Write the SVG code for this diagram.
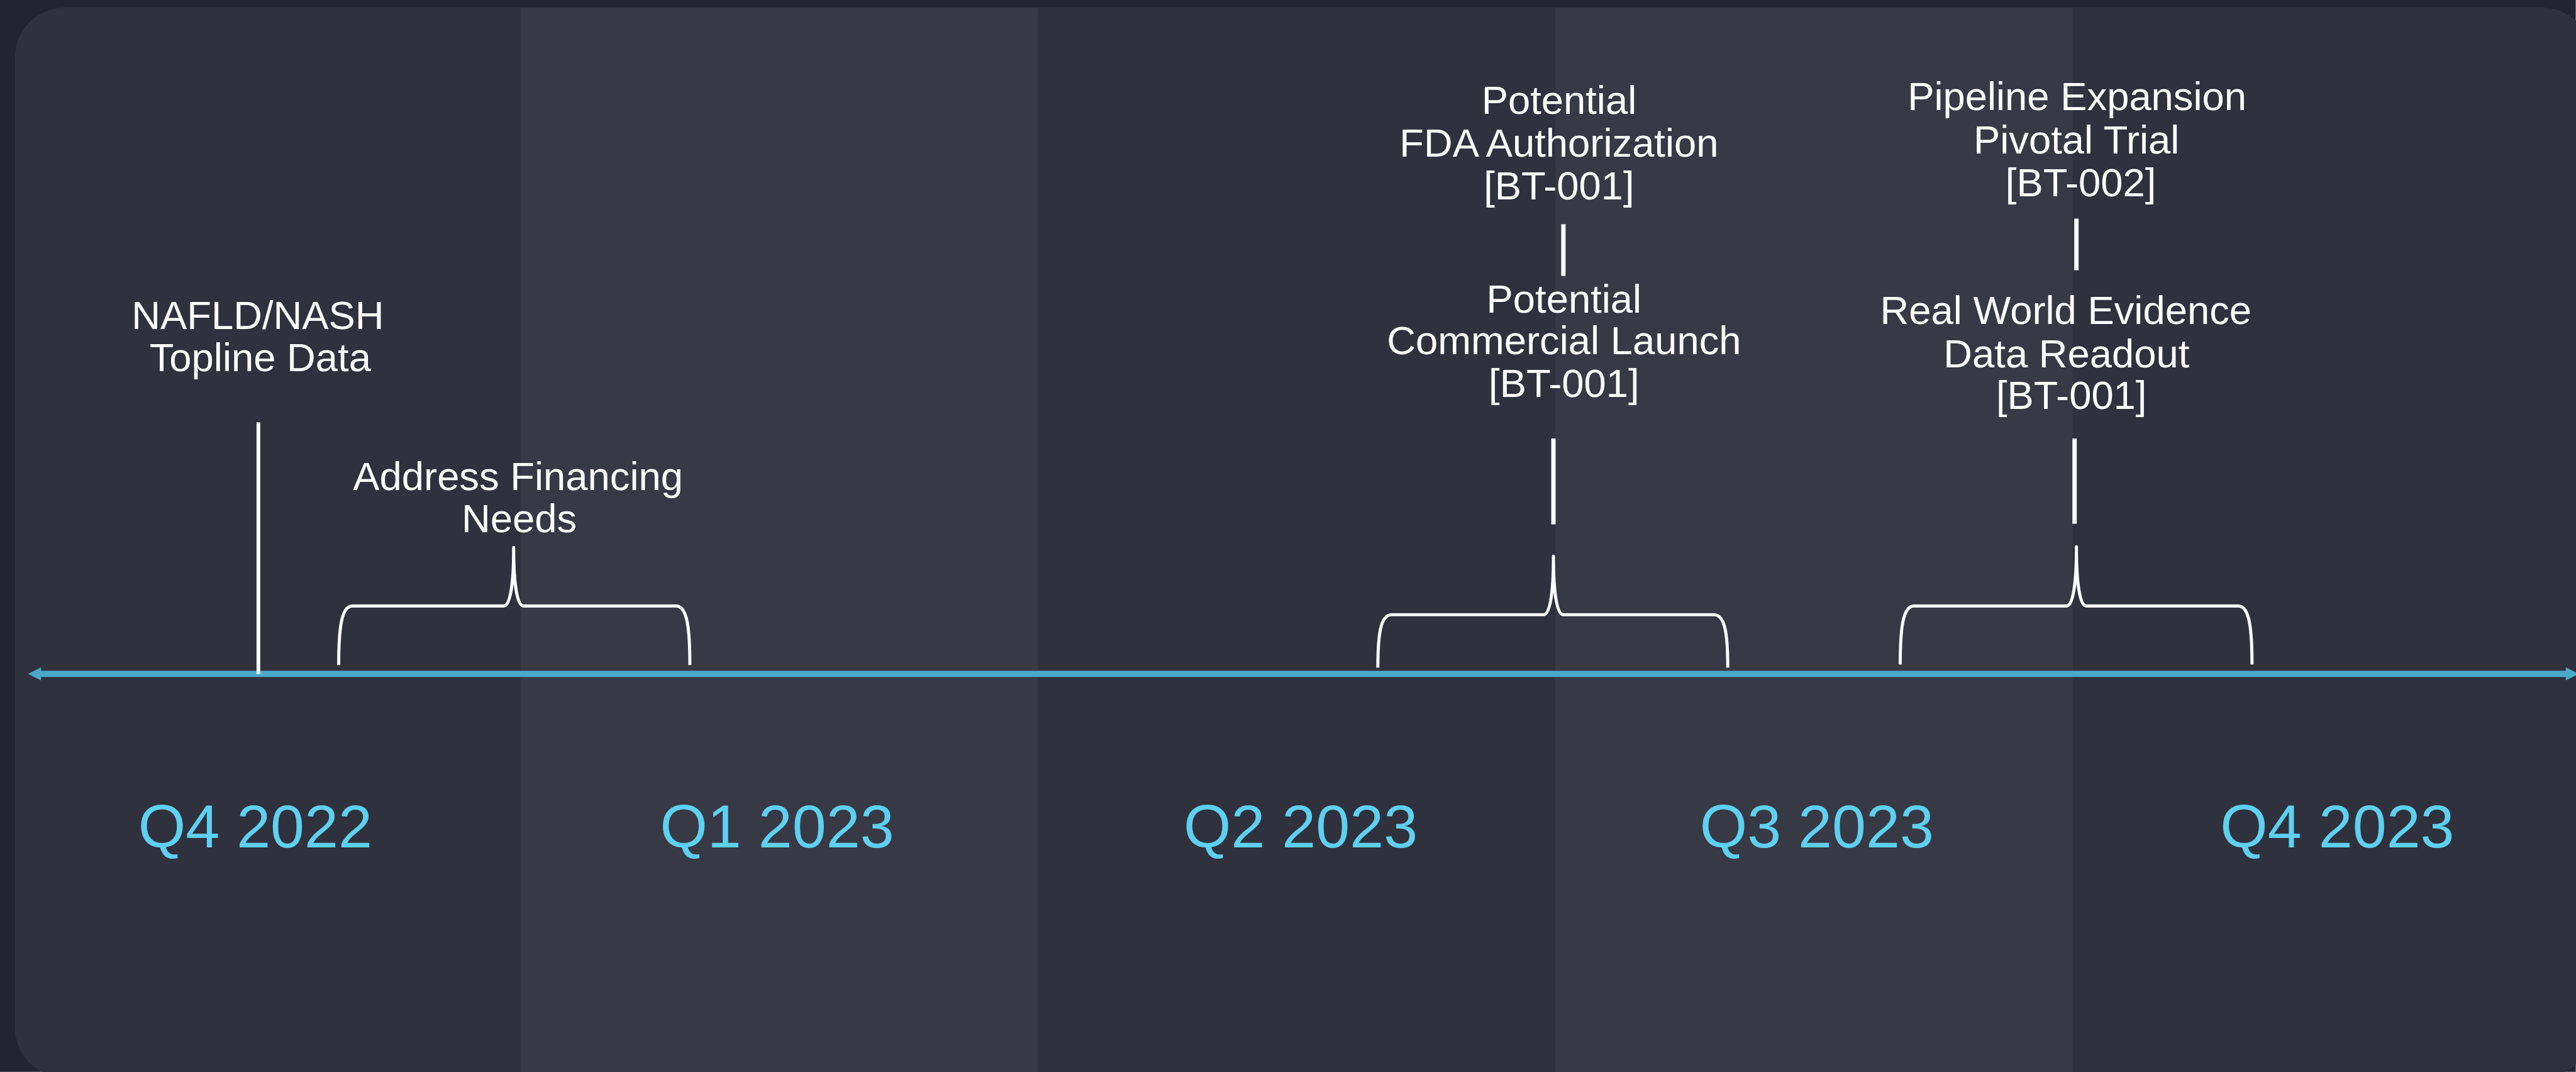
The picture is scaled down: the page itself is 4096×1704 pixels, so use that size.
<svg xmlns="http://www.w3.org/2000/svg" width="4096" height="1704" viewBox="0 0 4096 1704">
  <style>
    .label { font-family: "Liberation Sans", Arial, Helvetica, sans-serif; font-size: 64px; fill: #ffffff; text-anchor: middle; }
    .quarter { font-family: "Liberation Sans", Arial, Helvetica, sans-serif; font-size: 98px; fill: #5ed0f1; text-anchor: middle; }
    .tick { stroke: #ffffff; stroke-width: 7; fill: none; }
    .brace { stroke: #ffffff; stroke-width: 5; fill: none; stroke-linejoin: round; }
    .band-dark { fill: #2f313d; }
    .band-light { fill: #373945; }
  </style>
  <defs>
    <clipPath id="panelClip">
      <rect x="24" y="12" width="4139" height="1718" rx="80" ry="80"/>
    </clipPath>
  </defs>

  <g transform="scale(0.99)">
    <!-- page background -->
    <rect x="0" y="0" width="4137" height="1721" fill="#222431"/>

    <!-- rounded panel with alternating quarter bands -->
    <g id="panel" clip-path="url(#panelClip)">
      <rect class="band-dark" x="0" y="0" width="4200" height="1760"/>
      <rect class="band-light" x="836" y="0" width="831" height="1760"/>
      <rect class="band-light" x="2498" y="0" width="831" height="1760"/>
    </g>

    <!-- timeline axis, double-headed -->
    <g id="axis" fill="#4aa8ca">
      <rect x="64" y="1077" width="4058" height="10"/>
      <polygon points="45,1082 66,1071.5 66,1092.5"/>
      <polygon points="4142,1082 4121,1071.5 4121,1092.5"/>
    </g>

    <!-- connectors: ticks and braces -->
    <g id="connectors">
      <line class="tick" x1="415" y1="678" x2="415" y2="1082" style="stroke-width:6"/>
      <line class="tick" x1="2511" y1="360" x2="2511" y2="443"/>
      <line class="tick" x1="2495" y1="704" x2="2495" y2="842"/>
      <line class="tick" x1="3335" y1="351" x2="3335" y2="434"/>
      <line class="tick" x1="3332" y1="704" x2="3332" y2="841"/>

      <path class="brace" d="M544,1068 C544,1010 548,973 566,973 L809,973 C819,973 825,940 825,879 C825,940 831,973 841,973 L1086,973 C1104,973 1108,1010 1108,1068"/>
      <path class="brace" d="M2213,1072 C2213,1020 2217,987 2235,987 L2479,987 C2489,987 2495,955 2495,893 C2495,955 2501,987 2511,987 L2753,987 C2771,987 2775,1020 2775,1072"/>
      <path class="brace" d="M3052,1067 C3052,1010 3056,973 3074,973 L3319,973 C3329,973 3335,940 3335,878 C3335,940 3341,973 3351,973 L3595,973 C3613,973 3617,1010 3617,1067"/>
    </g>

    <!-- milestone labels -->
    <g id="node-nafld">
      <text class="label" x="414" y="528">NAFLD/NASH</text>
      <text class="label" x="418" y="596">Topline Data</text>
    </g>
    <g id="node-financing">
      <text class="label" x="832" y="787">Address Financing</text>
      <text class="label" x="834" y="855">Needs</text>
    </g>
    <g id="node-fda">
      <text class="label" x="2504" y="183">Potential</text>
      <text class="label" x="2504" y="252">FDA Authorization</text>
      <text class="label" x="2504" y="320">[BT-001]</text>
    </g>
    <g id="node-launch">
      <text class="label" x="2512" y="502">Potential</text>
      <text class="label" x="2512" y="569">Commercial Launch</text>
      <text class="label" x="2512" y="637">[BT-001]</text>
    </g>
    <g id="node-pipeline">
      <text class="label" x="3336" y="177">Pipeline Expansion</text>
      <text class="label" x="3335" y="246">Pivotal Trial</text>
      <text class="label" x="3342" y="315">[BT-002]</text>
    </g>
    <g id="node-rwe">
      <text class="label" x="3318" y="520">Real World Evidence</text>
      <text class="label" x="3319" y="590">Data Readout</text>
      <text class="label" x="3327" y="657">[BT-001]</text>
    </g>

    <!-- quarter labels -->
    <g id="quarters">
      <text class="quarter" x="410" y="1361">Q4 2022</text>
      <text class="quarter" x="1248" y="1361">Q1 2023</text>
      <text class="quarter" x="2089" y="1361">Q2 2023</text>
      <text class="quarter" x="2918" y="1361">Q3 2023</text>
      <text class="quarter" x="3754" y="1361">Q4 2023</text>
    </g>
  </g>
</svg>
